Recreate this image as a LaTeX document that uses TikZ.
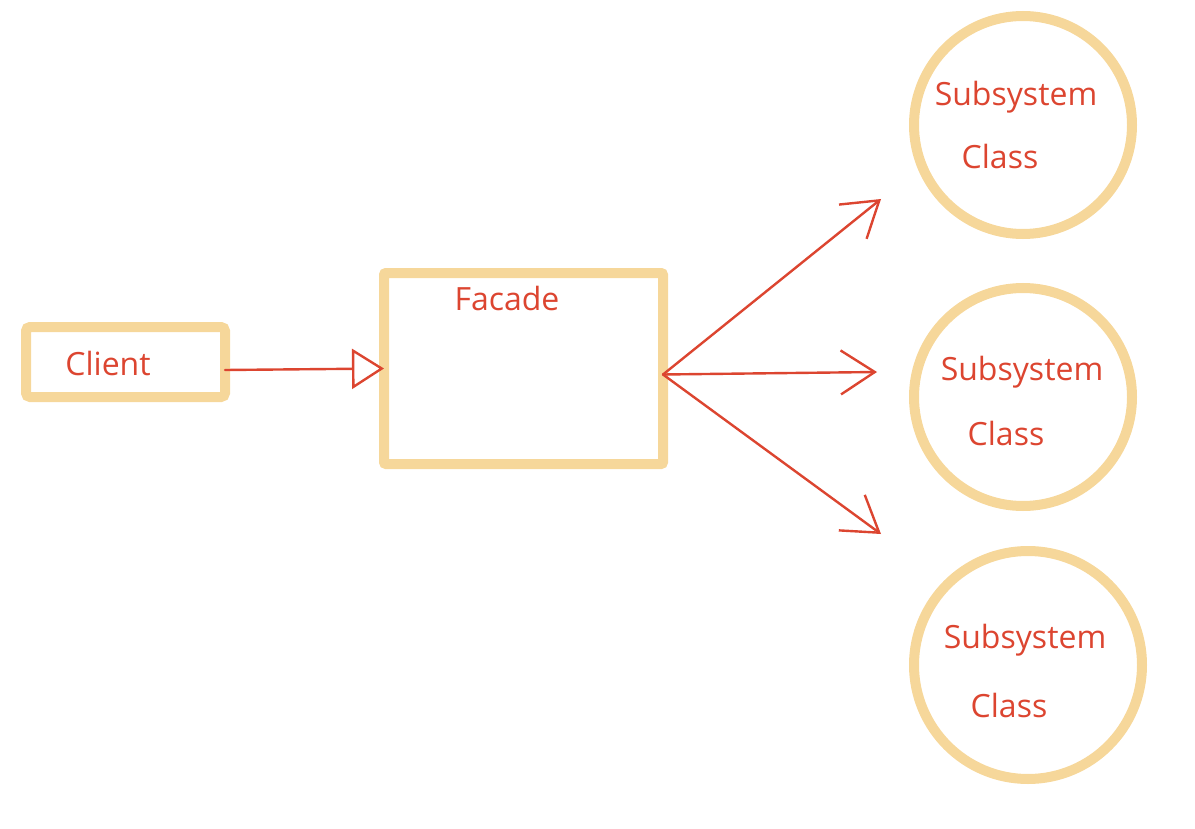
\documentclass[tikz,border=0pt]{standalone}
\usepackage{fontspec}
\newfontfamily\handfont{Open Sans}
\usetikzlibrary{positioning,arrows.meta}
\definecolor{boxyellow}{HTML}{F6D79A}
\definecolor{inkred}{HTML}{DC4530}

\begin{document}
\begin{tikzpicture}[x=0.5pt, y=-0.5pt, node distance=8pt,
    box/.style={draw=boxyellow, line width=5pt, inner sep=0pt, outer sep=0pt},
    subsys/.style={box, circle},
    txt/.style={text=inkred, font=\handfont\fontsize{16}{19}\selectfont, inner sep=0pt},
    ink/.style={draw=inkred, line width=1.2pt, line cap=round}]
    \useasboundingbox (0,0) rectangle (1195,829);
    \node (client) [box, rounded corners=2pt, minimum width=99.5pt, minimum height=35pt] at (125.5,362) {};
    \node (facade) [box, rounded corners=1pt, minimum width=139.5pt, minimum height=95.5pt] at (523.5,368.5) {};
    \node (sub1) [subsys, minimum size=109pt] at (1023,125) {};
    \node (sub2) [subsys, minimum size=109pt] at (1023,397) {};
    \node (sub3) [subsys, minimum size=114pt] at (1028,665) {};
    % labels
    \node (clientlbl) [txt] at (108,363) {Client};
    \node (facadelbl) [txt] at (507,298) {Facade};
    \node (sub1a) [txt] at (1016,97) {Subsystem};
    \node (sub1b) [txt] at (1000,157) {Class};
    \node (sub2a) [txt] at (1022,372) {Subsystem};
    \node (sub2b) [txt] at (1006,433) {Class};
    \node (sub3a) [txt] at (1025,640) {Subsystem};
    \node (sub3b) [txt] at (1009,705) {Class};
    % arrows
    \coordinate (out) at ([yshift=-3pt]facade.east);
    \coordinate (tip1) at (881,199);
    \coordinate (tip2) at (877,372);
    \coordinate (tip3) at (881,534);
    \draw[ink, -{Triangle[open, length=16pt, width=20pt]}] ([yshift=-4pt]client.east) -- (facade.west);
    \draw[ink, -{Straight Barb[length=17pt, width=22pt]}] (out) -- (tip1);
    \draw[ink, -{Straight Barb[length=17pt, width=22pt]}] (out) -- (tip2);
    \draw[ink, -{Straight Barb[length=17pt, width=22pt]}] (out) -- (tip3);
\end{tikzpicture}
\end{document}
